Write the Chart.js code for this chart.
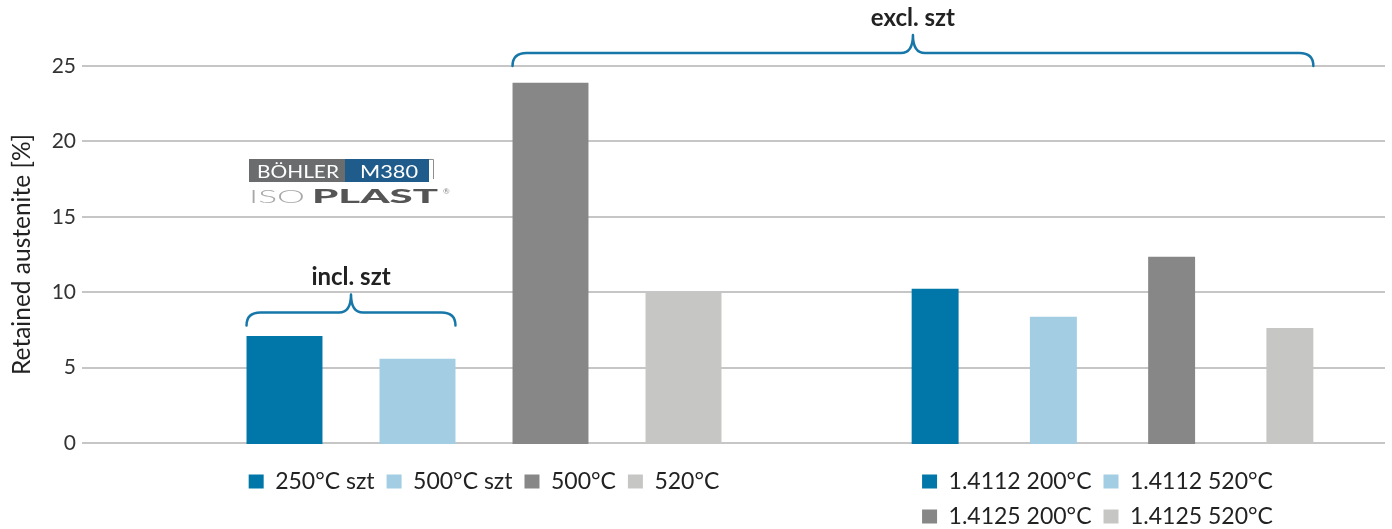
<!DOCTYPE html>
<html>
<head>
<meta charset="utf-8">
<title>Retained austenite</title>
<script src="https://cdn.jsdelivr.net/npm/chart.js@4.4.0/dist/chart.umd.min.js"></script>
<style>
  html, body { margin: 0; padding: 0; background: #fff; overflow: hidden; }
  #wrap { position: relative; width: 1392px; height: 529px; overflow: hidden; }
  #wrap canvas { position: absolute; top: 0; }
  #axes { left: 0; }
  #m380 { left: 218px; }
  #ref { left: 846px; }
</style>
</head>
<body>
<div id="wrap">
  <canvas id="axes" width="1392" height="529"></canvas>
  <canvas id="m380" width="532" height="503"></canvas>
  <canvas id="ref" width="503" height="538"></canvas>
</div>
<script>
// ---- data ----
const yMin = 0;
const yMax = 25;
const yStep = 5;
const axisTitle = 'Retained austenite [%]';

const m380Labels = ['250°C szt', '500°C szt', '500°C', '520°C'];
const m380Values = [7.15, 5.63, 23.9, 10.0];

const refLabels = ['1.4112 200°C', '1.4112 520°C', '1.4125 200°C', '1.4125 520°C'];
const refValues = [10.26, 8.41, 12.38, 7.68];

const braceLabels = ['incl. szt', 'excl. szt'];
const braceLevels = [7.8, 25];

// ---- styles ----
const barColors = ['#0077a8', '#a2cde3', '#878787', '#c6c6c5'];
const braceColor = '#1677a8';
const textColor = '#222';
const FONT = 'Lato, "Open Sans", sans-serif';

Chart.defaults.font.family = FONT;
Chart.defaults.color = textColor;
Chart.defaults.animation = false;

// one legend entry per bar, coloured like the bar
function legendItems(chart) {
  const ds = chart.data.datasets[0];
  return chart.data.labels.map((text, i) => ({
    text,
    fillStyle: ds.backgroundColor[i],
    strokeStyle: 'rgba(0,0,0,0)',
    lineWidth: 0,
    hidden: false,
    index: i,
    datasetIndex: 0,
    fontColor: textColor
  }));
}

function barPanel(id, labels, values, barFrac, leftGutter) {
  return new Chart(document.getElementById(id), {
    type: 'bar',
    data: {
      labels,
      datasets: [{
        data: values,
        backgroundColor: barColors,
        borderWidth: 0,
        categoryPercentage: 1,
        barPercentage: barFrac
      }]
    },
    options: {
      responsive: false,
      animation: false,
      layout: { padding: { top: 66, left: 0, right: 0, bottom: 0 } },
      plugins: {
        tooltip: { enabled: false },
        legend: {
          position: 'bottom',
          labels: {
            font: { size: 23 },
            boxWidth: 15,
            boxHeight: 14,
            padding: 12,
            color: textColor,
            generateLabels: legendItems
          }
        }
      },
      scales: {
        x: {
          display: true,
          grid: { display: false },
          border: { display: false },
          ticks: { display: false },
          afterFit: s => { s.height = 14; }
        },
        y: {
          min: yMin,
          max: yMax,
          display: leftGutter > 0,
          grid: { display: false },
          border: { display: false },
          ticks: { display: false },
          afterFit: s => { s.width = leftGutter; }
        }
      }
    }
  });
}

const m380Chart = barPanel('m380', m380Labels, m380Values, 0.571, 0);
const refChart = barPanel('ref', refLabels, refValues, 0.397, 30);

// which bars each brace spans: [chart, first bar, chart, last bar]
const braceSpans = [
  [m380Chart, 0, m380Chart, 1],
  [m380Chart, 2, refChart, 3]
];

function barEdge(host, chart, index, side) {
  const bar = chart.getDatasetMeta(0).data[index];
  return chart.canvas.offsetLeft - host.canvas.offsetLeft + bar.x + side * bar.width / 2;
}

function drawBrace(ctx, x0, x1, yb, label) {
  const rise = 13, spike = 18, endR = 14, midR = 12;
  const yh = yb - rise;
  const tip = yh - spike;
  const xc = (x0 + x1) / 2;
  ctx.beginPath();
  ctx.moveTo(x0, yb);
  ctx.quadraticCurveTo(x0, yh, x0 + endR, yh);
  ctx.lineTo(xc - midR, yh);
  ctx.quadraticCurveTo(xc, yh, xc, tip);
  ctx.quadraticCurveTo(xc, yh, xc + midR, yh);
  ctx.lineTo(x1 - endR, yh);
  ctx.quadraticCurveTo(x1, yh, x1, yb);
  ctx.stroke();
  ctx.fillText(label, xc, tip - 9);
}

function fitText(ctx, text, x, y, w) {
  const m = ctx.measureText(text).width;
  ctx.save();
  ctx.translate(x, y);
  ctx.scale(w / m, 1);
  ctx.fillText(text, 0, 0);
  ctx.restore();
}

function drawLogo(ctx, x, y) {
  ctx.save();
  ctx.textAlign = 'left';
  ctx.textBaseline = 'alphabetic';
  // upper band
  ctx.fillStyle = '#6b6c6e';
  ctx.fillRect(x, y, 96, 23);
  ctx.fillStyle = '#1f5c8c';
  ctx.fillRect(x + 96, y, 84, 23);
  ctx.strokeStyle = '#8d8d8d';
  ctx.lineWidth = 1;
  ctx.beginPath();
  ctx.moveTo(x + 180, y + 0.5);
  ctx.lineTo(x + 184.5, y + 0.5);
  ctx.lineTo(x + 184.5, y + 20);
  ctx.stroke();
  ctx.fillStyle = '#ffffff';
  ctx.font = '18px ' + FONT;
  fitText(ctx, 'BÖHLER', x + 8, y + 18.5, 82);
  fitText(ctx, 'M380', x + 111, y + 18.5, 58);
  // lower wordmark
  ctx.fillStyle = '#a8a8a8';
  ctx.font = '300 18px ' + FONT;
  fitText(ctx, 'ISO', x, y + 44, 56);
  ctx.fillStyle = '#555555';
  ctx.font = '900 18px ' + FONT;
  fitText(ctx, 'PLAST', x + 63, y + 44, 126);
  ctx.fillStyle = '#888888';
  ctx.font = '8px ' + FONT;
  ctx.fillText('®', x + 194, y + 35);
  ctx.restore();
}

const annotations = {
  id: 'annotations',
  afterDraw(chart) {
    const ctx = chart.ctx;
    const yScale = chart.scales.y;
    ctx.save();
    ctx.strokeStyle = braceColor;
    ctx.lineWidth = 2.5;
    ctx.lineCap = 'round';
    ctx.lineJoin = 'round';
    ctx.fillStyle = textColor;
    ctx.font = 'bold 24px ' + FONT;
    ctx.textAlign = 'center';
    ctx.textBaseline = 'alphabetic';
    braceSpans.forEach(([ca, ia, cb, ib], k) => {
      const x0 = barEdge(chart, ca, ia, -1);
      const x1 = barEdge(chart, cb, ib, 1);
      drawBrace(ctx, x0, x1, yScale.getPixelForValue(braceLevels[k]), braceLabels[k]);
    });
    ctx.restore();
    drawLogo(ctx, 249, 159);
  }
};

// shared value axis and gridlines behind both bar panels
new Chart(document.getElementById('axes'), {
  type: 'bar',
  data: { labels: [''], datasets: [] },
  options: {
    responsive: false,
    animation: false,
    layout: { padding: { top: 66, bottom: 86, left: 0, right: 7 } },
    plugins: { legend: { display: false }, tooltip: { enabled: false } },
    scales: {
      x: { display: false },
      y: {
        min: yMin,
        max: yMax,
        ticks: { stepSize: yStep, font: { size: 21 }, color: '#333', padding: 6 },
        grid: { color: '#c6c6c6', lineWidth: 2, tickLength: 3, tickColor: '#c6c6c6' },
        border: { display: false },
        title: {
          display: true,
          text: axisTitle,
          font: { size: 24.5 },
          color: textColor,
          padding: { top: 7, bottom: 0 }
        },
        afterFit: s => { s.width = 85; }
      }
    }
  },
  plugins: [annotations]
});
</script>
</body>
</html>
